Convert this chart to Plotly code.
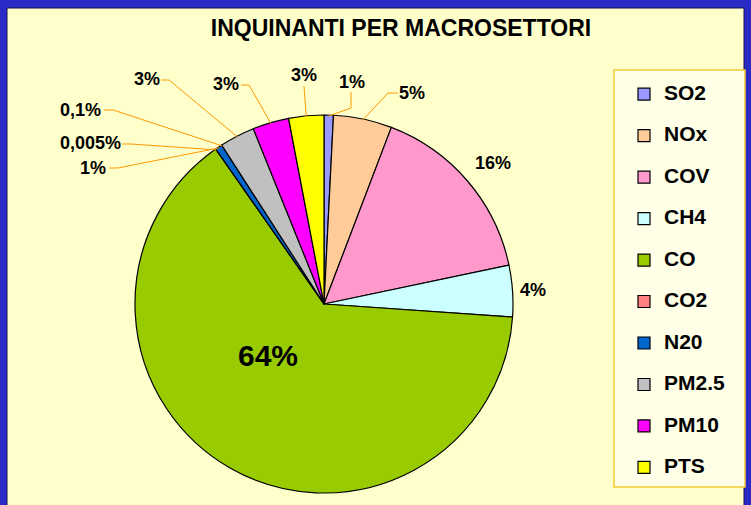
import math
import plotly.graph_objects as go

# ---------------- data ----------------
categories = ["SO2", "NOx", "COV", "CH4", "CO", "CO2", "N20", "PM2.5", "PM10", "PTS"]
values = [0.8, 5.0, 15.9, 4.4, 64.2, 0.005, 0.6, 3.0, 3.1, 3.0]
label_texts = ["1%", "5%", "16%", "4%", "64%", "0,005%", "1%", "3%", "3%", "3%"]
slice_colors = ["#9999FF", "#FFCC99", "#FF99CC", "#CCFFFF", "#99CC00",
                "#FF8080", "#0066CC", "#C0C0C0", "#FF00FF", "#FFFF00"]
extra_label_text = "0,1%"          # extra label pointing at the N20 / PM2.5 boundary
extra_label_after = "N20"
title_text = "INQUINANTI PER MACROSETTORI"

# ---------------- layout constants (pixels) ----------------
W, H = 751, 505
CX, CY, R = 324, 304, 189
FONT = "Liberation Sans, Arial, sans-serif"
LINE_COLOR = "#FF9900"


def px(x):
    return x / W


def py(y):
    return 1 - y / H


# label placement (text centre, optional leader-line points before the tip)
label_layout = [
    dict(x=352, y=82, pts=[(351, 92), (351, 108)]),   # SO2
    dict(x=412, y=93, pts=[(398, 93), (388, 93)]),    # NOx
    dict(x=493, y=163, pts=None),                     # COV
    dict(x=533, y=290, pts=None),                     # CH4
    dict(x=268, y=355, pts=None, size=30),            # CO
    dict(x=90, y=143, pts=[(122, 144), (131, 144)]),  # CO2
    dict(x=93, y=168, pts=[(109, 168), (118, 168)]),  # N20
    dict(x=147, y=79, pts=[(161, 80), (169, 80)]),    # PM2.5
    dict(x=226, y=84, pts=[(241, 85), (249, 85)]),    # PM10
    dict(x=304, y=75, pts=[(304, 86)]),               # PTS
]
extra_layout = dict(x=80, y=110, pts=[(104, 110), (113, 110)])

total = sum(values)


def edge_point(frac, r=R):
    ang = 2 * math.pi * frac
    return CX + r * math.sin(ang), CY - r * math.cos(ang)


fig = go.Figure()
fig.add_trace(go.Pie(
    labels=[f"<span style='font-size:21px'>{c}</span><br> " for c in categories],
    values=values,
    sort=False,
    direction="clockwise",
    rotation=0,
    textinfo="none",
    hoverinfo="skip",
    marker=dict(colors=slice_colors, line=dict(color="black", width=1.2)),
    domain=dict(x=[px(CX - R), px(CX + R)], y=[py(CY + R), py(CY - R)]),
    showlegend=True,
))

shapes = []
# blue frame + yellow chart area
shapes.append(dict(type="rect", xref="paper", yref="paper", x0=px(7), x1=px(744),
                   y0=py(506), y1=py(8), fillcolor="#FFFFCC",
                   line=dict(color="#101050", width=1), layer="below"))
# legend box
shapes.append(dict(type="rect", xref="paper", yref="paper", x0=px(614), x1=px(745),
                   y0=py(487), y1=py(70), fillcolor="#FFFFE8",
                   line=dict(color="#F5CC33", width=1.5), layer="below"))

annotations = []
cum = 0.0
for i, v in enumerate(values):
    mid = (cum + v / 2) / total
    cum += v
    lay = label_layout[i]
    annotations.append(dict(
        x=px(lay["x"]), y=py(lay["y"]), xref="paper", yref="paper",
        text=label_texts[i], showarrow=False, xanchor="center", yanchor="middle",
        font=dict(family=FONT, size=lay.get("size", 18), color="black", weight="bold"),
    ))
    if lay["pts"]:
        tx, ty = edge_point(mid, R - 1)
        pts = lay["pts"] + [(tx, ty)]
        path = "M " + " L ".join(f"{px(a):.5f},{py(b):.5f}" for a, b in pts)
        shapes.append(dict(type="path", xref="paper", yref="paper", path=path,
                           line=dict(color=LINE_COLOR, width=1), layer="above"))
    if categories[i] == extra_label_after:
        ex_frac = cum / total
        annotations.append(dict(
            x=px(extra_layout["x"]), y=py(extra_layout["y"]), xref="paper", yref="paper",
            text=extra_label_text, showarrow=False, xanchor="center", yanchor="middle",
            font=dict(family=FONT, size=18, color="black", weight="bold"),
        ))
        tx, ty = edge_point(ex_frac, R - 1)
        pts = extra_layout["pts"] + [(tx, ty)]
        path = "M " + " L ".join(f"{px(a):.5f},{py(b):.5f}" for a, b in pts)
        shapes.append(dict(type="path", xref="paper", yref="paper", path=path,
                           line=dict(color=LINE_COLOR, width=1), layer="above"))

fig.update_layout(
    width=W, height=H,
    margin=dict(l=0, r=0, t=0, b=0),
    paper_bgcolor="#2A2AC6",
    plot_bgcolor="rgba(0,0,0,0)",
    title=dict(text=title_text, x=px(401), y=py(28), xanchor="center", yanchor="middle",
               font=dict(family=FONT, size=23, color="black", weight="bold")),
    legend=dict(x=px(624), y=py(78), xanchor="left", yanchor="top",
                bgcolor="rgba(0,0,0,0)", borderwidth=0, valign="top",
                font=dict(family=FONT, size=14.8, color="black", weight="bold"),
                itemclick=False, itemdoubleclick=False),
    shapes=shapes,
    annotations=annotations,
)

fig.write_html("out.html", config={"displayModeBar": False},
               post_script="document.body.style.margin='0';")
